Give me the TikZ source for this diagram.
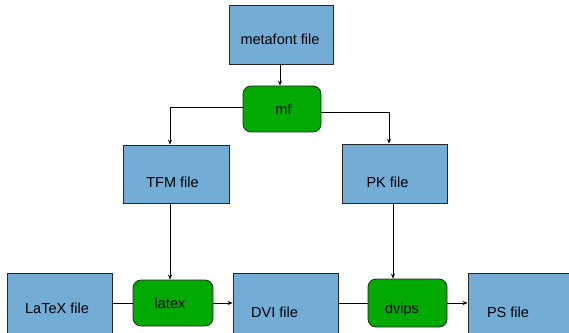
\documentclass[tikz,border=0pt]{standalone}
\usepackage{fontspec}
\setmainfont{Liberation Sans}
\usetikzlibrary{arrows.meta}
\definecolor{boxblue}{RGB}{115,173,214}
\definecolor{progreen}{RGB}{0,170,0}
\tikzset{
  filebox/.style={draw=black!85, line width=0.8pt, fill=boxblue, minimum width=#1, minimum height=59pt, inner sep=0pt, rectangle},
  filebox/.default=105pt,
  prog/.style={draw=black!85, line width=0.8pt, fill=progreen, rounded corners=8pt, inner sep=0pt, rectangle, minimum width=79pt, minimum height=46pt},
  lbl/.style={anchor=base, inner sep=0pt, font=\fontsize{14.5pt}{16pt}\selectfont},
  conn/.style={line width=0.8pt, draw=black},
  arr/.style={conn, -{Stealth[length=5pt,width=4pt]}}
}
\begin{document}
\begin{tikzpicture}[x=1pt,y=1pt]
\useasboundingbox (0,0) rectangle (569,332);
\clip (0,0) rectangle (569,332);
% boxes
\node[filebox=104pt] (meta) at (281,297.5) {};
\node[prog, minimum width=78pt] (mf) at (282,223) {};
\node[filebox=106pt, minimum height=58pt] (tfm) at (176,158) {};
\node[filebox=105pt] (pk) at (394.5,158.5) {};
\node[filebox=105pt, minimum height=60pt] (latexfile) at (59.5,29) {};
\node[prog, minimum width=80pt] (latex) at (173,29) {};
\node[filebox=105pt, minimum height=60pt] (dvi) at (285.5,29) {};
\node[prog, minimum height=48pt] (dvips) at (407.5,29) {};
\node[filebox=107pt, minimum height=60pt] (ps) at (521.5,29) {};
% labels
\node[lbl] (tmeta) at (280,287) {metafont file};
\node[lbl] (tmf) at (283.5,217) {mf};
\node[lbl] (ttfm) at (172.5,145) {TFM file};
\node[lbl] (tpk) at (387.5,145) {PK file};
\node[lbl] (tlatexfile) at (57,19) {LaTeX file};
\node[lbl] (tlatex) at (170,24) {latex};
\node[lbl] (tdvi) at (274.5,15) {DVI file};
\node[lbl] (tdvips) at (402,19) {dvips};
\node[lbl] (tps) at (508,15) {PS file};
% connectors
\draw[arr] ([xshift=-1pt]meta.south) -- ([xshift=-1pt]meta.south |- mf.north);
\draw[arr] ([yshift=2pt]mf.west) -| ([xshift=-6pt]tfm.north);
\draw[arr] ([yshift=-3pt]mf.east) -| ([xshift=-5.5pt]pk.north);
\draw[arr] ([xshift=-6pt]tfm.south) -- ([xshift=-6pt]tfm.south |- latex.north);
\draw[arr] ([xshift=-1.5pt]pk.south) -- ([xshift=-1.5pt]pk.south |- dvips.north);
\draw[conn] (latexfile.east) -- (latex.west);
\draw[arr] (latex.east) -- (dvi.west);
\draw[conn] (dvi.east) -- (dvips.west);
\draw[arr] (dvips.east) -- (ps.west);
\end{tikzpicture}
\end{document}
